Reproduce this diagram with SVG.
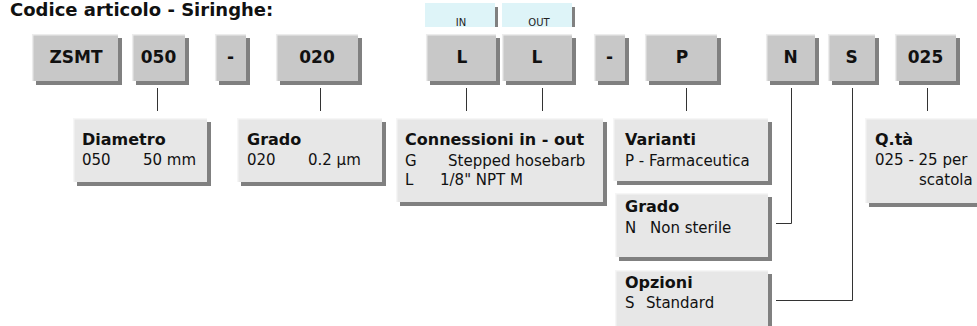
<svg xmlns="http://www.w3.org/2000/svg" width="977" height="326" viewBox="0 0 977 326">
<style>
text{font-family:"DejaVu Sans","Liberation Sans",sans-serif;fill:#111}
.title{font-size:18px;font-weight:bold}
.code{font-size:17px;font-weight:bold;text-anchor:middle}
.io{font-size:10px;text-anchor:middle;fill:#222}
.hd{font-size:16px;font-weight:bold}
.bd{font-size:15px}
.tb{fill:#c8c8c8}
.bb{fill:#e7e7e7}
.lb{fill:#def4f8}
.sh{fill:#808080}
.hl{fill:none;stroke:#ececec;stroke-width:1.5}
.hl2{fill:none;stroke:#f6f6f6;stroke-width:1.5}
.cn{fill:none;stroke:#333;stroke-width:1}
</style>
<rect width="977" height="326" fill="#fff"/>
<text class="title" x="10" y="16">Codice articolo - Siringhe:</text>

<g id="lbl-in">
<rect class="sh" x="495" y="7" width="3" height="20"/>
<rect class="lb" x="425" y="3" width="70" height="24"/>
<text class="io" x="461" y="26">IN</text>
</g>
<g id="lbl-out">
<rect class="sh" x="572" y="7" width="3" height="20"/>
<rect class="lb" x="502" y="3" width="70" height="24"/>
<text class="io" x="539" y="26">OUT</text>
</g>

<g id="c-zsmt">
<rect class="sh" x="36" y="38" width="86" height="47"/>
<rect class="tb" x="32" y="34" width="86" height="47"/>
<polyline class="hl" points="32.7,81 32.7,34.7 118,34.7"/>
<text class="code" x="76" y="63">ZSMT</text>
</g>
<g id="c-050">
<rect class="sh" x="136" y="38" width="53" height="47"/>
<rect class="tb" x="132" y="34" width="53" height="47"/>
<polyline class="hl" points="132.7,81 132.7,34.7 185,34.7"/>
<text class="code" x="158.5" y="63">050</text>
</g>
<g id="c-dash1">
<rect class="sh" x="219" y="38" width="31" height="47"/>
<rect class="tb" x="215" y="34" width="31" height="47"/>
<polyline class="hl" points="215.7,81 215.7,34.7 246,34.7"/>
<text class="code" x="230.5" y="63">-</text>
</g>
<g id="c-020">
<rect class="sh" x="280" y="38" width="82" height="47"/>
<rect class="tb" x="276" y="34" width="82" height="47"/>
<polyline class="hl" points="276.7,81 276.7,34.7 358,34.7"/>
<text class="code" x="317" y="63">020</text>
</g>
<g id="c-in">
<rect class="sh" x="430" y="38" width="70" height="47"/>
<rect class="tb" x="426" y="34" width="70" height="47"/>
<polyline class="hl" points="426.7,81 426.7,34.7 496,34.7"/>
<text class="code" x="462" y="63">L</text>
</g>
<g id="c-out">
<rect class="sh" x="506" y="38" width="70" height="47"/>
<rect class="tb" x="502" y="34" width="70" height="47"/>
<polyline class="hl" points="502.7,81 502.7,34.7 572,34.7"/>
<text class="code" x="537" y="63">L</text>
</g>
<g id="c-dash2">
<rect class="sh" x="598" y="38" width="31" height="47"/>
<rect class="tb" x="594" y="34" width="31" height="47"/>
<polyline class="hl" points="594.7,81 594.7,34.7 625,34.7"/>
<text class="code" x="609.5" y="63">-</text>
</g>
<g id="c-p">
<rect class="sh" x="649" y="38" width="72" height="47"/>
<rect class="tb" x="645" y="34" width="72" height="47"/>
<polyline class="hl" points="645.7,81 645.7,34.7 717,34.7"/>
<text class="code" x="682" y="63">P</text>
</g>
<g id="c-n">
<rect class="sh" x="770" y="38" width="49" height="47"/>
<rect class="tb" x="766" y="34" width="49" height="47"/>
<polyline class="hl" points="766.7,81 766.7,34.7 815,34.7"/>
<text class="code" x="790.5" y="63">N</text>
</g>
<g id="c-s">
<rect class="sh" x="832" y="38" width="47" height="47"/>
<rect class="tb" x="828" y="34" width="47" height="47"/>
<polyline class="hl" points="828.7,81 828.7,34.7 875,34.7"/>
<text class="code" x="851.5" y="63">S</text>
</g>
<g id="c-025">
<rect class="sh" x="899" y="38" width="61" height="47"/>
<rect class="tb" x="895" y="34" width="61" height="47"/>
<polyline class="hl" points="895.7,81 895.7,34.7 956,34.7"/>
<text class="code" x="925.5" y="63">025</text>
</g>

<g id="connectors">
<line class="cn" x1="157.5" y1="88" x2="157.5" y2="111"/>
<line class="cn" x1="320.5" y1="88" x2="320.5" y2="111"/>
<line class="cn" x1="466.5" y1="88" x2="466.5" y2="111"/>
<line class="cn" x1="542.5" y1="88" x2="542.5" y2="111"/>
<line class="cn" x1="686.5" y1="88" x2="686.5" y2="111"/>
<line class="cn" x1="927.5" y1="88" x2="927.5" y2="111"/>
<path class="cn" d="M791.5 88 V223.5 H776"/>
<path class="cn" d="M852.5 88 V300.5 H776"/>
</g>

<g id="d-diametro">
<rect class="sh" x="77" y="122" width="134" height="64"/>
<rect class="bb" x="73" y="118" width="134" height="64"/>
<polyline class="hl2" points="73.7,182 73.7,118.7 207,118.7"/>
<text class="hd" x="82" y="145">Diametro</text>
<text class="bd" y="165"><tspan x="82">050</tspan><tspan x="143">50 mm</tspan></text>
</g>
<g id="d-grado">
<rect class="sh" x="241" y="122" width="145" height="64"/>
<rect class="bb" x="237" y="118" width="145" height="64"/>
<polyline class="hl2" points="237.7,182 237.7,118.7 382,118.7"/>
<text class="hd" x="247" y="145">Grado</text>
<text class="bd" y="165"><tspan x="247">020</tspan><tspan x="308">0.2 µm</tspan></text>
</g>
<g id="d-connessioni">
<rect class="sh" x="400" y="122" width="207" height="84"/>
<rect class="bb" x="396" y="118" width="207" height="84"/>
<polyline class="hl2" points="396.7,202 396.7,118.7 603,118.7"/>
<text class="hd" x="405" y="145">Connessioni in - out</text>
<text class="bd" y="166"><tspan x="405">G</tspan><tspan x="448">Stepped hosebarb</tspan></text>
<text class="bd" y="185"><tspan x="405">L</tspan><tspan x="440">1/8&quot; NPT M</tspan></text>
</g>
<g id="d-varianti">
<rect class="sh" x="617" y="122" width="155" height="63"/>
<rect class="bb" x="613" y="118" width="155" height="63"/>
<polyline class="hl2" points="613.7,181 613.7,118.7 768,118.7"/>
<text class="hd" x="625" y="145">Varianti</text>
<text class="bd" x="625" y="166">P - Farmaceutica</text>
</g>
<g id="d-grado-n">
<rect class="sh" x="619" y="197" width="153" height="64"/>
<rect class="bb" x="615" y="193" width="153" height="64"/>
<polyline class="hl2" points="615.7,257 615.7,193.7 768,193.7"/>
<text class="hd" x="625" y="212">Grado</text>
<text class="bd" y="233"><tspan x="625">N</tspan><tspan x="650">Non sterile</tspan></text>
</g>
<g id="d-opzioni">
<rect class="sh" x="619" y="274" width="153" height="60"/>
<rect class="bb" x="615" y="270" width="153" height="60"/>
<polyline class="hl2" points="615.7,330 615.7,270.7 768,270.7"/>
<text class="hd" x="625" y="288">Opzioni</text>
<text class="bd" y="308"><tspan x="625">S</tspan><tspan x="646">Standard</tspan></text>
</g>
<g id="d-qta">
<rect class="sh" x="869" y="122" width="120" height="85"/>
<rect class="bb" x="865" y="118" width="120" height="85"/>
<polyline class="hl2" points="865.7,203 865.7,118.7 985,118.7"/>
<text class="hd" x="875" y="145">Q.tà</text>
<text class="bd" x="875" y="165">025 - 25 per</text>
<text class="bd" x="919" y="185">scatola</text>
</g>
</svg>
